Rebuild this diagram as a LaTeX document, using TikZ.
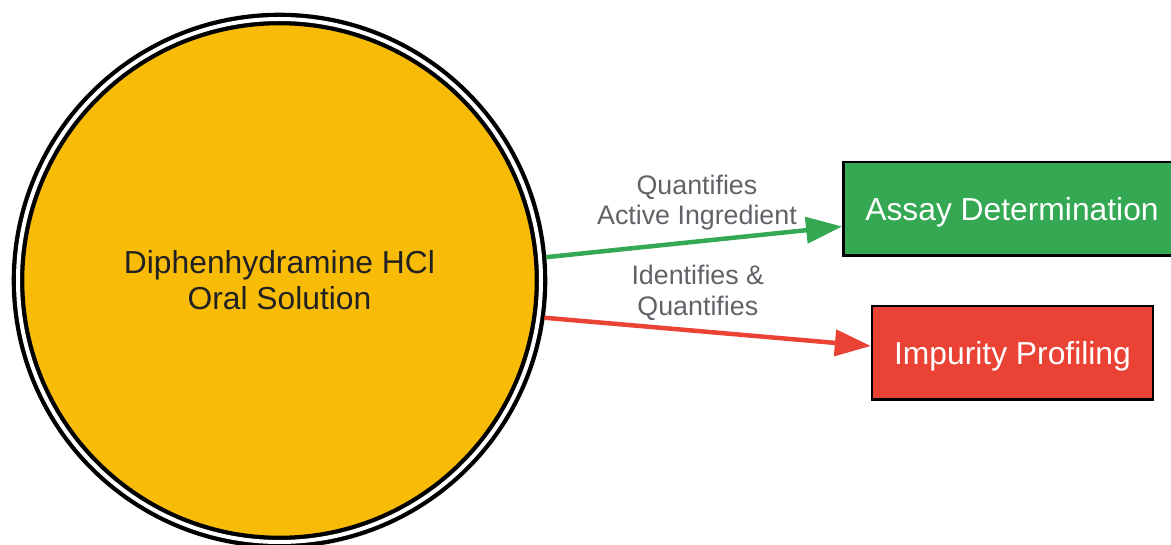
\documentclass[tikz,border=0pt]{standalone}
\usepackage{fontspec}
\setmainfont{Liberation Sans}
\usepackage{xcolor}
\definecolor{diag_yellow}{RGB}{249, 188, 6}
\definecolor{diag_green}{RGB}{52, 168, 83}
\definecolor{diag_red}{RGB}{234, 67, 53}
\definecolor{diag_gray}{RGB}{95, 99, 104}
\definecolor{diag_text}{RGB}{33, 33, 36}
\usetikzlibrary{arrows.meta, positioning}

\begin{document}
\begin{tikzpicture}[x=1pt, y=-1pt,
        font=\fontsize{31.8}{36}\selectfont,
        box/.style={draw=black, line width=2.5pt, minimum height=93.5pt,
                    inner xsep=22pt, text height=22.8pt, text depth=0pt,
                    text=white},
        arr/.style={-{Triangle[length=36pt, width=26pt]}, line width=4.5pt},
        lbl/.style={font=\fontsize{26.8}{30.6}\selectfont, text=diag_gray,
                    align=center, inner sep=0pt}]
        \useasboundingbox (0,0) rectangle (1171,545);
        % Nodes
        \node[circle, draw=black, double=white, double distance=4pt,
              line width=4.3pt, fill=diag_yellow, minimum size=523pt,
              inner sep=0pt, outer sep=6pt, align=center, text=diag_text]
          (sol) at (279.5,280.5) {Diphenhydramine HCl\\Oral Solution};
        \node[box, fill=diag_green] (assay) at (1012,209) {Assay Determination};
        \node[box, fill=diag_red] (imp) at (1012.5,353) {Impurity Profiling};
        % Arrows
        \draw[arr, diag_green] (sol.5) -- (assay)
          node[lbl, pos=0.51, yshift=39pt] {Quantifies\\Active Ingredient};
        \draw[arr, diag_red] (sol.-8) -- ([yshift=7pt]imp.west)
          node[lbl, pos=0.47, yshift=38pt] {Identifies \&\\Quantifies};
      \end{tikzpicture}
\end{document}
